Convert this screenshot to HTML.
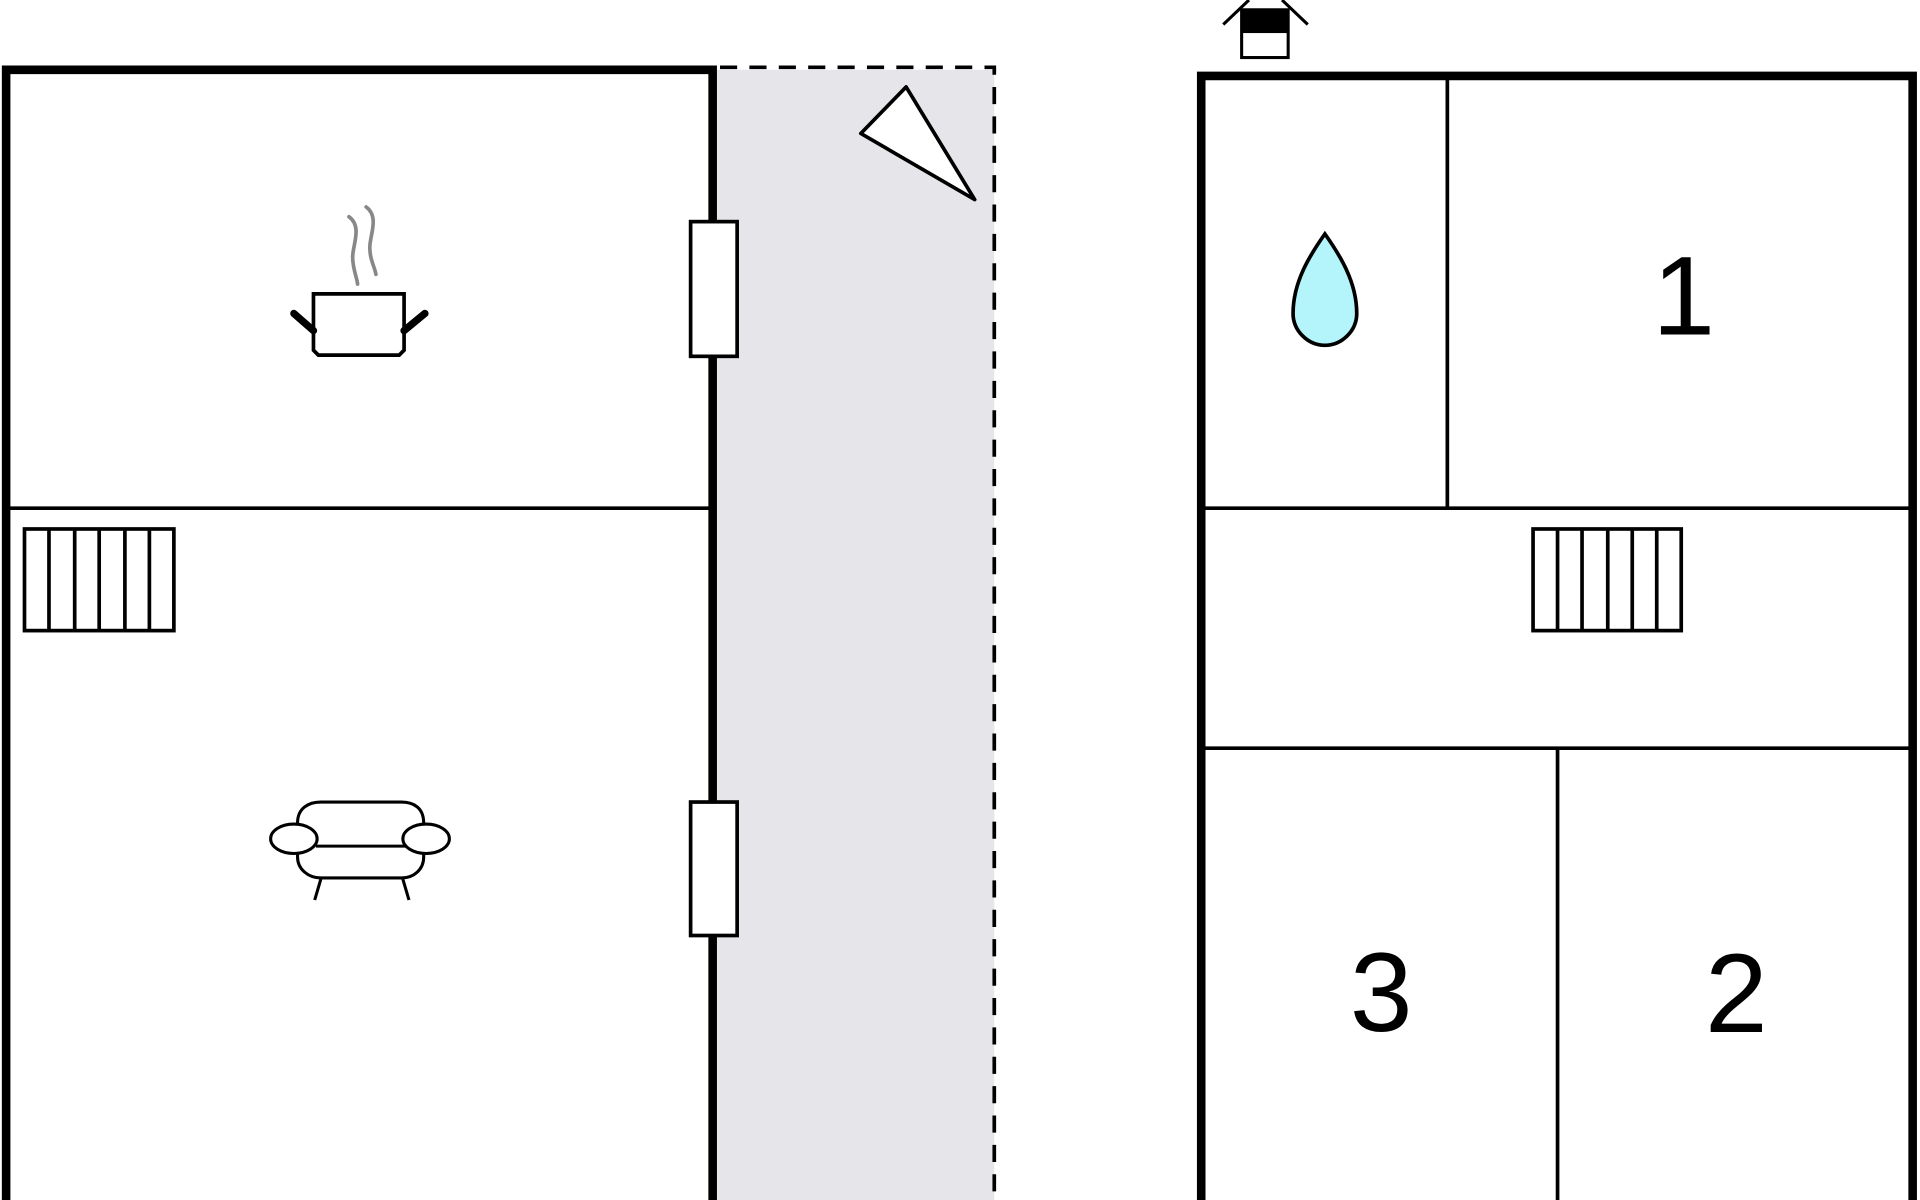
<!DOCTYPE html>
<html><head><meta charset="utf-8"><style>html,body{margin:0;padding:0;background:#fff}svg{display:block}</style></head>
<body>
<svg width="1920" height="1200" viewBox="0 0 1568 980" xmlns="http://www.w3.org/2000/svg">
<rect width="1568" height="980" fill="#fff"/>
<!-- corridor -->
<rect x="585" y="57" width="227" height="923" fill="#e6e6ea"/>
<path d="M588 55 H812 V980" fill="none" stroke="#000" stroke-width="3" stroke-dasharray="14,10"/>
<!-- left building -->
<path d="M5 980 V57 H582 V980" fill="none" stroke="#000" stroke-width="7"/>
<line x1="6" y1="415" x2="580" y2="415" stroke="#000" stroke-width="3"/>
<rect x="564" y="181" width="38" height="110" fill="#fff" stroke="#000" stroke-width="3"/>
<rect x="564" y="655" width="38" height="109" fill="#fff" stroke="#000" stroke-width="3"/>
<polygon points="703,109 740,71 796,163" fill="#fff" stroke="#000" stroke-width="3" stroke-linejoin="round"/>
<!-- pot -->
<path d="M256 240 H330 V286 L326 290 H260 L256 286 Z" fill="#fff" stroke="#000" stroke-width="3"/>
<path d="M256 270 L240 256 M330 270 L347 256" stroke="#000" stroke-width="6" stroke-linecap="round"/>
<path d="M285 177 C296 185,288 200,288 210 C288 220,292 228,292 232 M299 169 C310 177,302 192,302 202 C302 212,306 218,307 224" fill="none" stroke="#888" stroke-width="3" stroke-linecap="round"/>
<!-- radiator left -->
<g fill="none" stroke="#000" stroke-width="3">
<rect x="20" y="432" width="122" height="83"/>
<path d="M40 432V515M61 432V515M81 432V515M102 432V515M122 432V515"/>
<rect x="1252" y="432" width="121" height="83"/>
<path d="M1272 432V515M1292 432V515M1313 432V515M1333 432V515M1353 432V515"/>
</g>
<!-- sofa -->
<g fill="#fff" stroke="#000" stroke-width="2.5">
<path d="M243 672 C243 660,252 655,262 655 H328 C338 655,346 660,346 672 V700 C346 710,338 717,328 717 H262 C252 717,243 710,243 700 Z"/>
<line x1="258" y1="691" x2="332" y2="691"/>
<ellipse cx="240" cy="685" rx="19" ry="12"/>
<ellipse cx="348" cy="685" rx="19" ry="12"/>
<path d="M262 718 L257 735 M329 718 L334 735" fill="none"/>
</g>
<!-- right building -->
<path d="M981 980 V62 H1562 V980" fill="none" stroke="#000" stroke-width="7"/>
<line x1="1182" y1="64" x2="1182" y2="415" stroke="#000" stroke-width="3"/>
<line x1="984" y1="415" x2="1560" y2="415" stroke="#000" stroke-width="3"/>
<line x1="984" y1="611" x2="1560" y2="611" stroke="#000" stroke-width="3"/>
<line x1="1272" y1="611" x2="1272" y2="980" stroke="#000" stroke-width="3"/>
<!-- chimney -->
<path d="M999 20 L1020 0 M1047 0 L1068 20" stroke="#000" stroke-width="2.5"/>
<rect x="1014" y="8" width="38" height="39" fill="#fff" stroke="#000" stroke-width="2.5"/>
<rect x="1014" y="8" width="38" height="19" fill="#000"/>
<!-- drop -->
<path d="M1082 191 C1070 208,1056 230,1056 256 C1056 270,1068 282,1082 282 C1096 282,1108 270,1108 256 C1108 230,1094 208,1082 191 Z" fill="#b3f5fb" stroke="#000" stroke-width="3"/>
<g font-family="Liberation Sans, sans-serif" font-size="92" fill="#000" text-anchor="middle">
<text x="1375" y="273">1</text>
<text x="1128" y="842">3</text>
<text x="1418" y="843">2</text>
</g>
</svg>
</body></html>
